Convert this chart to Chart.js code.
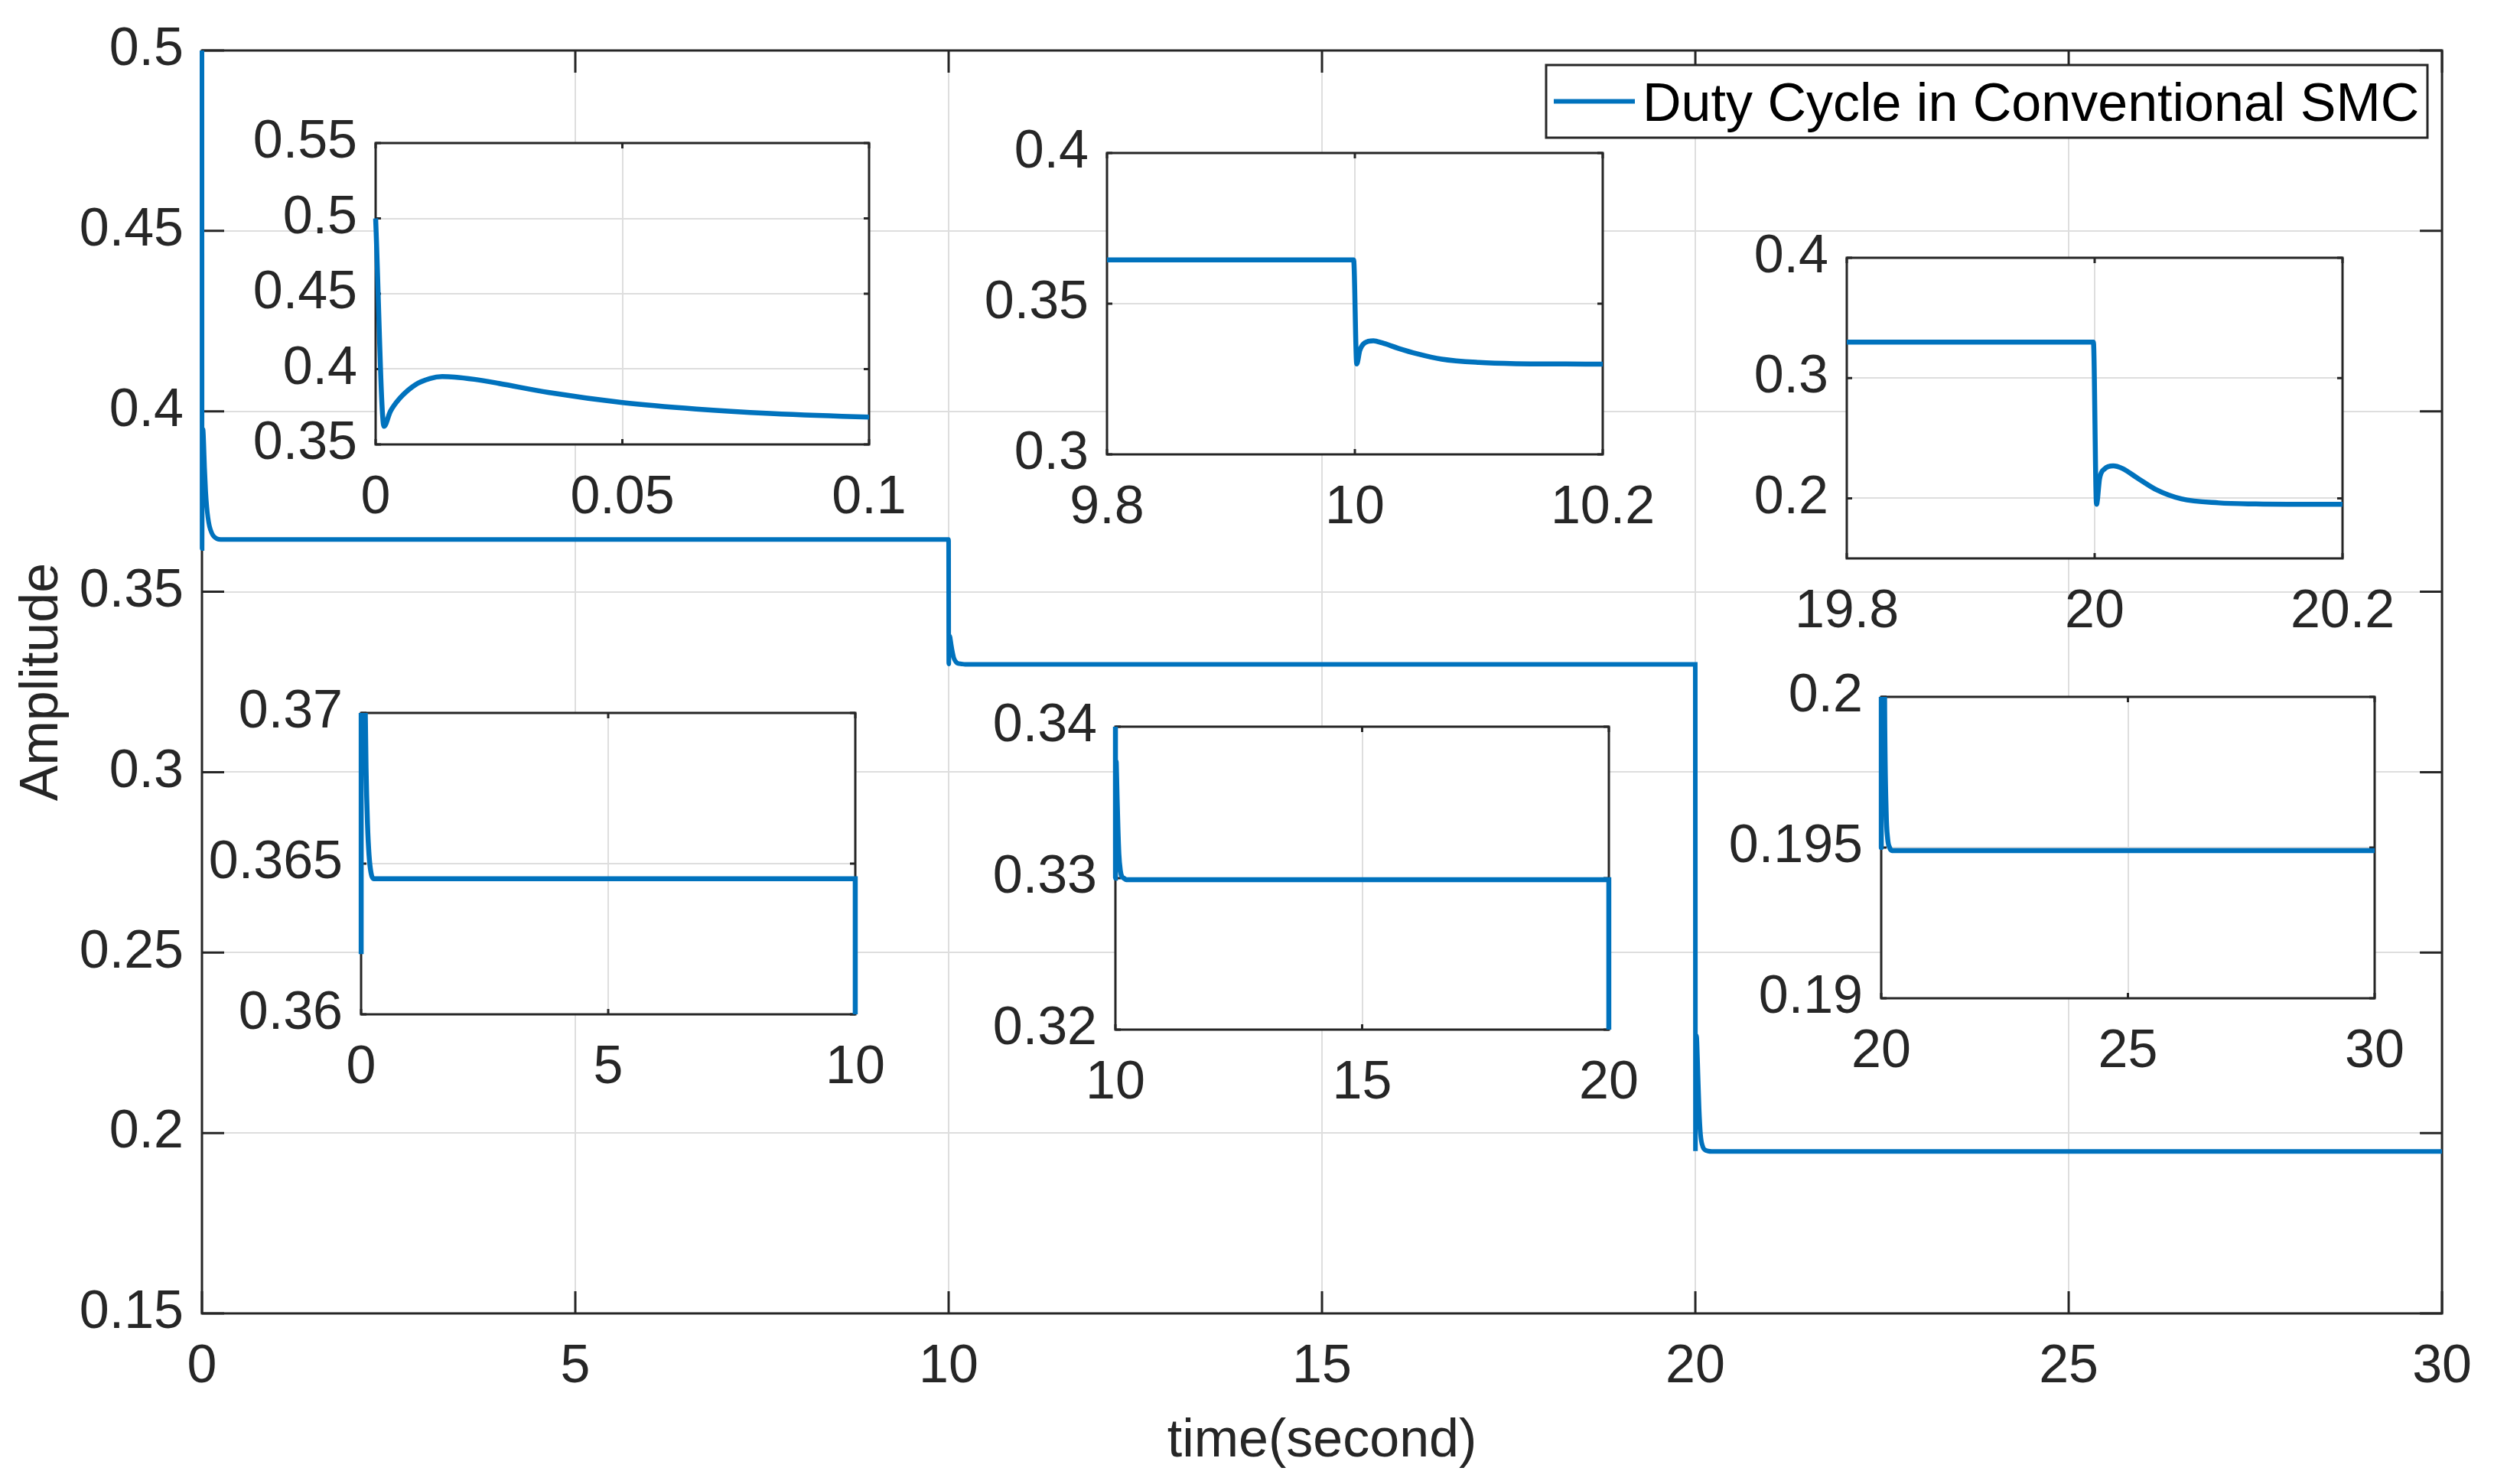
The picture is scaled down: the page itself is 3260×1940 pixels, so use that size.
<!DOCTYPE html>
<html><head><meta charset="utf-8">
<script src="https://cdn.jsdelivr.net/npm/chart.js@4.4.1/dist/chart.umd.min.js"></script>
<style>
html,body{margin:0;padding:0;background:#fff;}
#wrap{position:relative;width:3260px;height:1940px;overflow:hidden;background:#fff;}
canvas{position:absolute;}
</style></head><body><div id="wrap"><canvas id="main" width="3260" height="1940" style="left:0;top:0"></canvas></div>
<script>
// ---------------- data ----------------
const seriesLabel = 'Duty Cycle in Conventional SMC';
const xTitle = 'time(second)';
const yTitle = 'Amplitude';
const timeSec = [0, 0.0017, 0.003, 0.005, 0.008, 0.011, 0.0135, 0.016, 0.02, 0.025, 0.035, 0.05, 0.065, 0.08, 0.1, 0.13, 0.16, 0.2, 0.25, 0.3, 2, 5, 8, 9.999,
  10.0015, 10.004, 10.008, 10.015, 10.022, 10.035, 10.05, 10.07, 10.1, 10.13, 10.17, 10.22, 12, 15, 18, 19.999,
  20.0015, 20.004, 20.008, 20.015, 20.022, 20.035, 20.05, 20.07, 20.1, 20.13, 20.17, 20.22, 22, 25, 28, 30];
const dutyCycle = [0.5, 0.362, 0.372, 0.381, 0.3895, 0.3937, 0.3950, 0.3947, 0.3932, 0.3905, 0.3845, 0.3778, 0.3735, 0.3706, 0.3682, 0.3663, 0.3653, 0.3647, 0.3645, 0.3645, 0.3645, 0.3645, 0.3645, 0.3645,
  0.3300, 0.3345, 0.3370, 0.3377, 0.3370, 0.3352, 0.3334, 0.3316, 0.3305, 0.3301, 0.3300, 0.3299, 0.3299, 0.3299, 0.3299, 0.3299,
  0.1950, 0.2165, 0.2245, 0.2270, 0.2250, 0.2165, 0.2070, 0.1995, 0.1962, 0.1953, 0.1950, 0.1949, 0.1949, 0.1949, 0.1949, 0.1949];

const mainXRange = [0, 30];
const mainYRange = [0.15, 0.5];
const mainXTicks = [0, 5, 10, 15, 20, 25, 30];
const mainYTicks = [0.15, 0.2, 0.25, 0.3, 0.35, 0.4, 0.45, 0.5];

const insetAXRange = [0, 0.1],   insetAYRange = [0.35, 0.55];
const insetAXTicks = [0, 0.05, 0.1], insetAYTicks = [0.35, 0.4, 0.45, 0.5, 0.55];
const insetBXRange = [9.8, 10.2], insetBYRange = [0.3, 0.4];
const insetBXTicks = [9.8, 10, 10.2], insetBYTicks = [0.3, 0.35, 0.4];
const insetCXRange = [19.8, 20.2], insetCYRange = [0.15, 0.4];
const insetCXTicks = [19.8, 20, 20.2], insetCYTicks = [0.2, 0.3, 0.4];
const insetDXRange = [0, 10],    insetDYRange = [0.36, 0.37];
const insetDXTicks = [0, 5, 10], insetDYTicks = [0.36, 0.365, 0.37];
const insetEXRange = [10, 20],   insetEYRange = [0.32, 0.34];
const insetEXTicks = [10, 15, 20], insetEYTicks = [0.32, 0.33, 0.34];
const insetFXRange = [20, 30],   insetFYRange = [0.19, 0.2];
const insetFXTicks = [20, 25, 30], insetFYTicks = [0.19, 0.195, 0.2];

// ---------------- styles / layout ----------------
const FONT = "'Liberation Sans', Arial, Helvetica, sans-serif";
const TXT = '#262626', GRID = '#dedede', BLUE = '#0072BD';
const FS = 70;
function fmt(v){ return String(parseFloat(Number(v).toFixed(6))); }

const boxPlugin = {
  id: 'matlabBox',
  beforeDraw(chart, args, o) {
    if (o.fillArea) {
      const a = chart.chartArea, ctx = chart.ctx;
      ctx.save(); ctx.fillStyle = '#fff'; ctx.fillRect(a.left, a.top, a.width, a.height); ctx.restore();
    }
  },
  beforeDatasetsDraw(chart, args, o) {
    const {ctx, chartArea: a, scales: {x, y}} = chart;
    ctx.save();
    ctx.strokeStyle = TXT; ctx.lineWidth = o.lw;
    const tl = o.tickLen;
    ctx.beginPath();
    x.ticks.forEach(t => { const p = x.getPixelForValue(t.value);
      ctx.moveTo(p, a.bottom); ctx.lineTo(p, a.bottom - tl); ctx.moveTo(p, a.top); ctx.lineTo(p, a.top + tl); });
    y.ticks.forEach(t => { const p = y.getPixelForValue(t.value);
      ctx.moveTo(a.left, p); ctx.lineTo(a.left + tl, p); ctx.moveTo(a.right, p); ctx.lineTo(a.right - tl, p); });
    ctx.stroke();
    ctx.strokeRect(a.left, a.top, a.width, a.height);
    ctx.restore();
  },
  afterDraw(chart, args, o) {
    if (!o.legend) return;
    const ctx = chart.ctx, L = o.legend, ds = chart.data.datasets[0];
    ctx.save();
    ctx.fillStyle = '#fff'; ctx.fillRect(L.x0, L.y0, L.x1 - L.x0, L.y1 - L.y0);
    ctx.strokeStyle = TXT; ctx.lineWidth = 3; ctx.strokeRect(L.x0, L.y0, L.x1 - L.x0, L.y1 - L.y0);
    const cy = (L.y0 + L.y1) / 2;
    ctx.strokeStyle = ds.borderColor; ctx.lineWidth = 6;
    ctx.beginPath(); ctx.moveTo(L.lineX0, cy); ctx.lineTo(L.lineX1, cy); ctx.stroke();
    ctx.fillStyle = '#000'; ctx.font = FS + 'px ' + FONT; ctx.textBaseline = 'middle'; ctx.textAlign = 'left';
    ctx.fillText(ds.label, L.textX, cy + 6);
    ctx.restore();
  }
};

function makeChart(canvas, cfg) {
  const pts = timeSec.map((t, i) => ({x: t, y: dutyCycle[i]}));
  return new Chart(canvas, {
    type: 'line',
    data: { datasets: [{ label: seriesLabel, data: pts, borderColor: BLUE, backgroundColor: BLUE,
      borderWidth: cfg.lineW, pointRadius: 0, cubicInterpolationMode: 'monotone', fill: false, clip: cfg.clip }] },
    options: {
      responsive: false, animation: false, devicePixelRatio: 1,
      layout: { padding: cfg.pad },
      plugins: { legend: { display: false }, tooltip: { enabled: false },
        matlabBox: { lw: cfg.boxW, tickLen: cfg.tickLen, fillArea: cfg.fillArea, legend: cfg.legend } },
      scales: {
        x: { type: 'linear', min: cfg.xr[0], max: cfg.xr[1],
          afterBuildTicks: s => { s.ticks = cfg.xt.map(v => ({value: v})); },
          afterFit: s => { s.height = cfg.xAxisH; },
          ticks: { autoSkip: false, maxRotation: 0, padding: 29, color: TXT, font: {family: FONT, size: FS}, callback: v => fmt(v) },
          grid: { color: GRID, lineWidth: 2, drawTicks: false }, border: { display: false },
          title: cfg.xTitle ? { display: true, text: cfg.xTitle, color: TXT, font: {family: FONT, size: FS}, padding: {top: 0, bottom: 13} } : { display: false } },
        y: { type: 'linear', min: cfg.yr[0], max: cfg.yr[1],
          afterBuildTicks: s => { s.ticks = cfg.yt.map(v => ({value: v})); },
          afterFit: s => { s.width = cfg.yAxisW; },
          ticks: { autoSkip: false, padding: 24, color: TXT, font: {family: FONT, size: FS}, callback: v => fmt(v) },
          grid: { color: GRID, lineWidth: 2, drawTicks: false }, border: { display: false },
          title: cfg.yTitle ? { display: true, text: cfg.yTitle, color: TXT, font: {family: FONT, size: FS}, padding: {top: 14, bottom: 0} } : { display: false } }
      }
    },
    plugins: [boxPlugin]
  });
}

// main
makeChart(document.getElementById('main'), {
  xr: mainXRange, yr: mainYRange, xt: mainXTicks, yt: mainYTicks,
  pad: {left: 0, top: 56, right: 54, bottom: 0}, xAxisH: 1940 - 1717, yAxisW: 264,
  lineW: 6, boxW: 3, tickLen: 29, fillArea: false, clip: {left: 4, top: 4, right: 0, bottom: 0},
  xTitle: xTitle, yTitle: yTitle,
  legend: {x0: 2021, y0: 85, x1: 3173, y1: 180, lineX0: 2031, lineX1: 2137, textX: 2147}
});

// insets: box = [left, top, right, bottom]
const insetLayout = [
  {xr: insetAXRange, yr: insetAYRange, xt: insetAXTicks, yt: insetAYTicks, box: [491, 181, 1136, 581], clip: {left: 4, top: 0, right: 0, bottom: 0}},
  {xr: insetBXRange, yr: insetBYRange, xt: insetBXTicks, yt: insetBYTicks, box: [1447, 194, 2095, 594], clip: {left: 0, top: 0, right: 0, bottom: 0}},
  {xr: insetCXRange, yr: insetCYRange, xt: insetCXTicks, yt: insetCYTicks, box: [2414, 331, 3062, 730], clip: {left: 0, top: 0, right: 0, bottom: 0}},
  {xr: insetDXRange, yr: insetDYRange, xt: insetDXTicks, yt: insetDYTicks, box: [472, 926, 1118, 1326], clip: {left: 4, top: 0, right: 4, bottom: 0}},
  {xr: insetEXRange, yr: insetEYRange, xt: insetEXTicks, yt: insetEYTicks, box: [1458, 944, 2103, 1346], clip: {left: 4, top: 0, right: 4, bottom: 0}},
  {xr: insetFXRange, yr: insetFYRange, xt: insetFXTicks, yt: insetFYTicks, box: [2459, 905, 3104, 1305], clip: {left: 4, top: 0, right: 4, bottom: 0}}
];
const ML = 230, MT = 60, MR = 110, MB = 120;
const wrap = document.getElementById('wrap');
insetLayout.forEach(ins => {
  const [l, t, r, b] = ins.box;
  const c = document.createElement('canvas');
  c.width = (r - l) + ML + MR; c.height = (b - t) + MT + MB;
  c.style.left = (l - ML) + 'px'; c.style.top = (t - MT) + 'px';
  wrap.appendChild(c);
  makeChart(c, Object.assign({}, ins, {
    pad: {left: 0, top: MT, right: MR, bottom: 0}, xAxisH: MB, yAxisW: ML,
    lineW: 6.5, boxW: 3, tickLen: 7, fillArea: true
  }));
});
</script></body></html>
